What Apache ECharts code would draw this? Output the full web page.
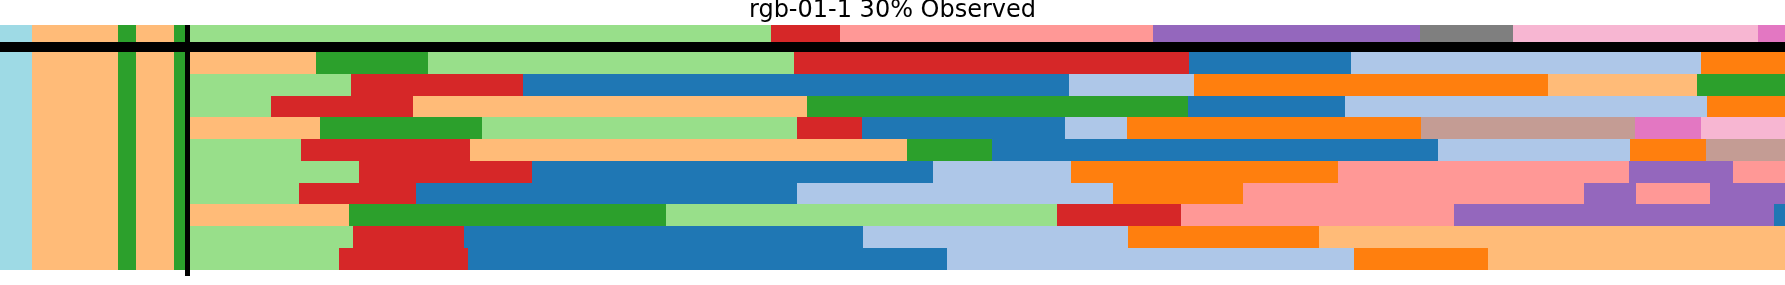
<!DOCTYPE html>
<html>
<head>
<meta charset="utf-8">
<script src="https://cdn.jsdelivr.net/npm/echarts@6.0.0/dist/echarts.min.js"></script>
<style>
  html, body { margin: 0; padding: 0; background: #ffffff; }
  #chart { width: 1785px; height: 285px; }
</style>
</head>
<body>
<div id="chart"></div>
<script>
// ---------------- data ----------------
const titleText = 'rgb-01-1 30% Observed';
const videoEnd = 1785;          // last frame (timeline units)
const observedEnd = 187.5;      // end of the observed part

// class ids follow the tab20 palette order
// observed part (shared by every row)
const observedBounds = [0, 32, 118, 136, 174, 187.5];
const observedClasses = [19, 3, 4, 3, 4];

// ground truth of the unobserved part
const gtBounds = [187.5, 771, 840, 1153, 1420, 1513, 1758, 1785];
const gtClasses = [5, 6, 7, 8, 14, 13, 12];

// sampled predictions
const s1Bounds = [187.5, 316, 428, 794, 1189, 1351, 1701, 1785];
const s1Classes = [3, 4, 5, 6, 0, 1, 2];
const s2Bounds = [187.5, 351, 523, 1069, 1194, 1548, 1697, 1785];
const s2Classes = [5, 6, 0, 1, 2, 3, 4];
const s3Bounds = [187.5, 271, 413, 807, 1188, 1345, 1707, 1785];
const s3Classes = [5, 6, 3, 4, 0, 1, 2];
const s4Bounds = [187.5, 320, 482, 797, 862, 1065, 1127, 1421, 1635, 1701, 1785];
const s4Classes = [3, 4, 5, 6, 0, 1, 2, 11, 12, 13];
const s5Bounds = [187.5, 301, 470, 907, 992, 1438, 1630, 1706, 1785];
const s5Classes = [5, 6, 3, 4, 0, 1, 2, 11];
const s6Bounds = [187.5, 359, 532, 933, 1071, 1338, 1629, 1733, 1785];
const s6Classes = [5, 6, 0, 1, 2, 7, 8, 7];
const s7Bounds = [187.5, 299, 416, 797, 1113, 1243, 1584, 1636, 1710, 1785];
const s7Classes = [5, 6, 0, 1, 2, 7, 8, 7, 8];
const s8Bounds = [187.5, 349, 666, 1057, 1181, 1454, 1774, 1785];
const s8Classes = [3, 4, 5, 6, 7, 8, 0];
const s9Bounds = [187.5, 353, 464, 863, 1128, 1319, 1785];
const s9Classes = [5, 6, 0, 1, 2, 3];
const s10Bounds = [187.5, 339, 468, 947, 1354, 1488, 1785];
const s10Classes = [5, 6, 0, 1, 2, 3];

// ---------------- styling ----------------
const tab20 = ['#1f77b4', '#aec7e8', '#ff7f0e', '#ffbb78', '#2ca02c', '#98df8a',
  '#d62728', '#ff9896', '#9467bd', '#c5b0d5', '#8c564b', '#c49c94',
  '#e377c2', '#f7b6d2', '#7f7f7f', '#c7c7c7', '#bcbd22', '#dbdb8d',
  '#17becf', '#9edae5'];

const gtTop = -1.27;  // ground-truth row is drawn a bit taller, above the separator
const rows = [
  { top: gtTop, bottom: 0, b: gtBounds, c: gtClasses },
  { b: s1Bounds, c: s1Classes }, { b: s2Bounds, c: s2Classes },
  { b: s3Bounds, c: s3Classes }, { b: s4Bounds, c: s4Classes },
  { b: s5Bounds, c: s5Classes }, { b: s6Bounds, c: s6Classes },
  { b: s7Bounds, c: s7Classes }, { b: s8Bounds, c: s8Classes },
  { b: s9Bounds, c: s9Classes }, { b: s10Bounds, c: s10Classes }
];

const segData = [];
rows.forEach((r, i) => {
  const top = i === 0 ? r.top : i - 1;
  const bottom = i === 0 ? r.bottom : i;
  for (let k = 0; k < observedClasses.length; k++) {
    segData.push([observedBounds[k], observedBounds[k + 1], top, bottom, observedClasses[k]]);
  }
  for (let k = 0; k < r.c.length; k++) {
    segData.push([r.b[k], r.b[k + 1], top, bottom, r.c[k]]);
  }
});

function renderSeg(params, api) {
  const p0 = api.coord([api.value(0), api.value(2)]);
  const p1 = api.coord([api.value(1), api.value(3)]);
  const x = Math.round(p0[0]), x2 = Math.round(p1[0]);
  const y = Math.floor(p0[1]), y2 = Math.floor(p1[1]);
  return {
    type: 'rect',
    shape: { x: x, y: y, width: x2 - x, height: y2 - y },
    style: { fill: tab20[api.value(4)] }
  };
}

function renderSeparators(params, api) {
  const cs = params.coordSys;
  const obs = api.coord([api.value(0), 0]);
  const row0 = api.coord([0, 0]);
  return {
    type: 'group',
    children: [
      { type: 'rect',
        shape: { x: cs.x, y: Math.floor(row0[1]) - 10, width: cs.width, height: 10 },
        style: { fill: '#000000' } },
      { type: 'rect',
        shape: { x: obs[0] - 2.5, y: cs.y, width: 5, height: cs.height + 6 },
        style: { fill: '#000000' } }
    ]
  };
}

const chart = echarts.init(document.getElementById('chart'), null, { renderer: 'canvas' });
chart.setOption({
  animation: false,
  backgroundColor: '#ffffff',
  title: {
    text: titleText,
    left: 'center',
    top: -1,
    padding: 0,
    textStyle: { fontFamily: 'DejaVu Sans', fontSize: 24, fontWeight: 'normal', color: '#000000' }
  },
  grid: { left: 0, right: 0, top: 25, bottom: 15 },
  xAxis: { type: 'value', min: 0, max: videoEnd, show: false },
  yAxis: { type: 'value', min: gtTop, max: 10, inverse: true, show: false },
  series: [
    { type: 'custom', renderItem: renderSeg, data: segData, clip: false,
      encode: { x: [0, 1], y: [2, 3] } },
    { type: 'custom', renderItem: renderSeparators, data: [[observedEnd]], clip: false,
      encode: { x: 0 }, z: 5 }
  ]
});
</script>
</body>
</html>
